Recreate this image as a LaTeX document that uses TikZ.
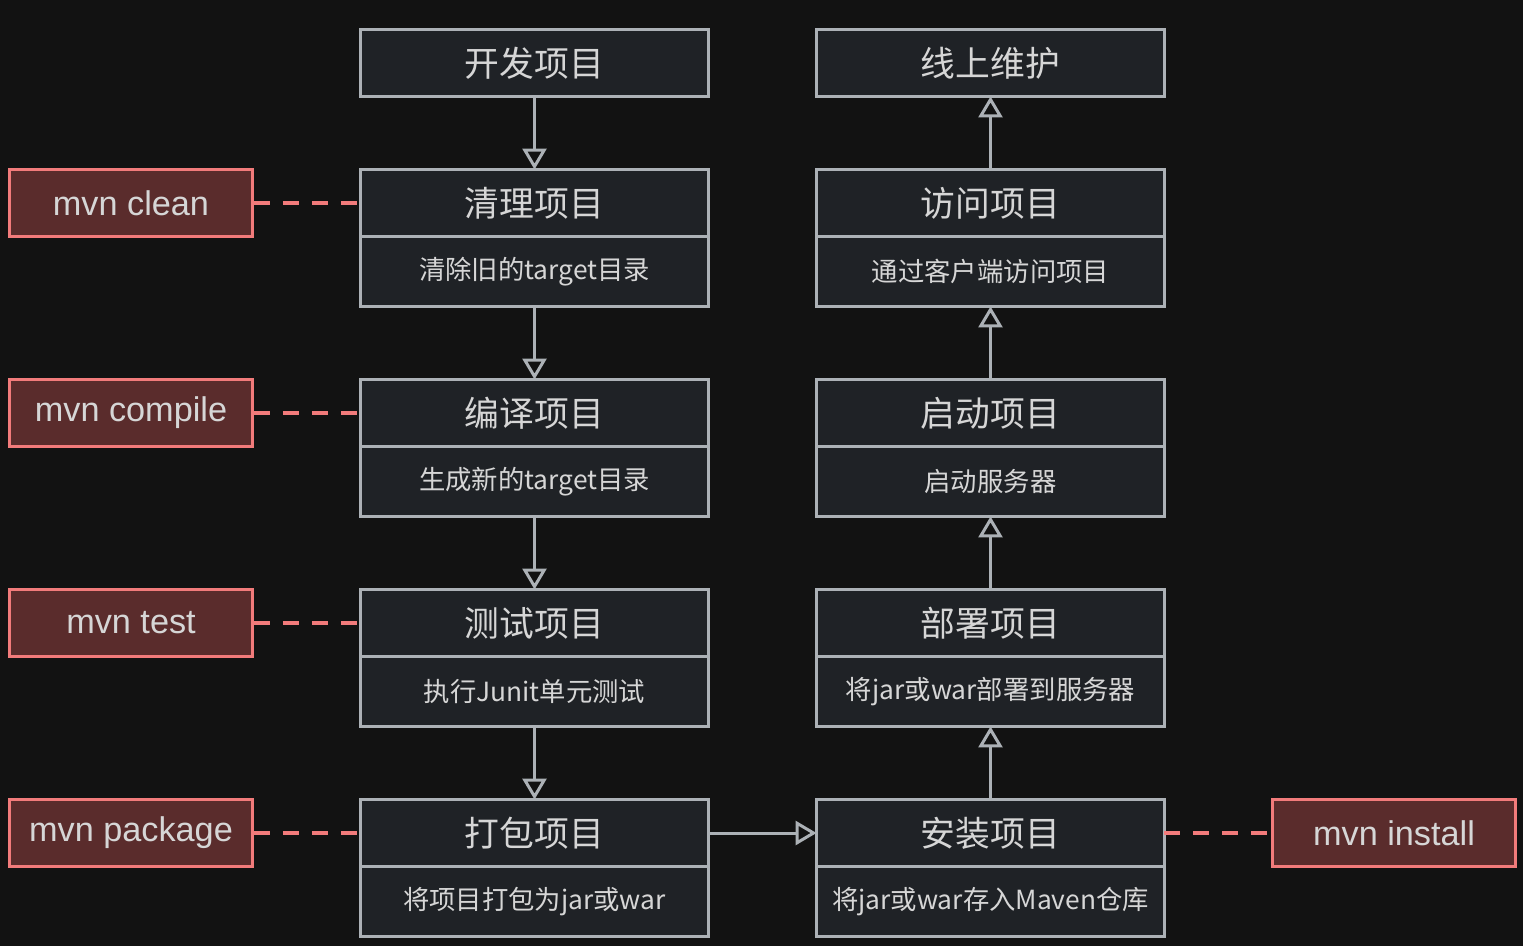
\documentclass[tikz,border=0pt]{standalone}
\usepackage{fontspec}
\setmainfont{Noto Sans CJK SC}
\newfontfamily\mvnfont{Liberation Sans}
\usetikzlibrary{arrows.meta, positioning, calc}
\definecolor{inkbg}{HTML}{121212}
\definecolor{inkbox}{HTML}{1F2226}
\definecolor{inkline}{HTML}{ACB1B6}
\definecolor{inktext}{HTML}{D6D6D6}
\definecolor{inkred}{HTML}{F27B7B}
\definecolor{inkredfill}{HTML}{5A2C2C}
\tikzset{
  stage/.style={draw=inkline, line width=0.06cm, fill=inkbox, text=inktext,
        minimum width=6.96cm, minimum height=1.34cm, inner sep=0pt, outer sep=0pt,
        font=\fontsize{19.8pt}{22pt}\selectfont},
  detail/.style={stage, anchor=north, minimum height=1.40cm,
        font=\fontsize{15pt}{17pt}\selectfont},
  mvnbox/.style={draw=inkred, line width=0.06cm, fill=inkredfill, text=inktext,
        minimum width=4.86cm, minimum height=1.34cm, inner sep=0pt,
        font=\mvnfont\fontsize{19.5pt}{21pt}\selectfont},
  flow/.style={draw=inkline, line width=0.06cm,
        -{Triangle[open, length=0.42cm, width=0.48cm, line width=0.06cm]}},
  link/.style={draw=inkred, line width=0.08cm, dash pattern=on 0.32cm off 0.26cm}
}
\newcommand{\stagebox}[4]{%
  \node[stage] (#1) at (#2,#3) {#4};}
\newcommand{\detailbox}[2]{%
  \node[detail] (#1d) at (#1.south) {#2};}

\begin{document}
\begin{tikzpicture}[x=0.02cm, y=-0.02cm]
      \fill[inkbg] (0,0) rectangle (1523,946);
      \useasboundingbox (0,0) rectangle (1523,946);
      % left column
      \stagebox{dev}{534.5}{63}{开发项目}
      \stagebox{clean}{534.5}{203}{清理项目}
      \detailbox{clean}{清除旧的target目录}
      \stagebox{compile}{534.5}{413}{编译项目}
      \detailbox{compile}{生成新的target目录}
      \stagebox{test}{534.5}{623}{测试项目}
      \detailbox{test}{执行Junit单元测试}
      \stagebox{package}{534.5}{833}{打包项目}
      \detailbox{package}{将项目打包为jar或war}
      % right column
      \stagebox{maintain}{990.5}{63}{线上维护}
      \stagebox{visit}{990.5}{203}{访问项目}
      \detailbox{visit}{通过客户端访问项目}
      \stagebox{start}{990.5}{413}{启动项目}
      \detailbox{start}{启动服务器}
      \stagebox{deploy}{990.5}{623}{部署项目}
      \detailbox{deploy}{将jar或war部署到服务器}
      \stagebox{install}{990.5}{833}{安装项目}
      \detailbox{install}{将jar或war存入Maven仓库}
      % maven commands
      \node[mvnbox] (mclean) at (131,203) {mvn clean};
      \node[mvnbox] (mcompile) at (131,413) {mvn compile};
      \node[mvnbox] (mtest) at (131,623) {mvn test};
      \node[mvnbox] (mpackage) at (131,833) {mvn package};
      \node[mvnbox] (minstall) at (1394,833) {mvn install};
      \draw[link] (mclean) -- (clean);
      \draw[link] (mcompile) -- (compile);
      \draw[link] (mtest) -- (test);
      \draw[link] (mpackage) -- (package);
      \draw[link] (install) -- (minstall);
      % flow
      \draw[flow] (dev) -- (clean);
      \draw[flow] (cleand) -- (compile);
      \draw[flow] (compiled) -- (test);
      \draw[flow] (testd) -- (package);
      \draw[flow] (package) -- (install);
      \draw[flow] (install) -- (deployd);
      \draw[flow] (deploy) -- (startd);
      \draw[flow] (start) -- (visitd);
      \draw[flow] (visit) -- (maintain);
    \end{tikzpicture}
\end{document}
